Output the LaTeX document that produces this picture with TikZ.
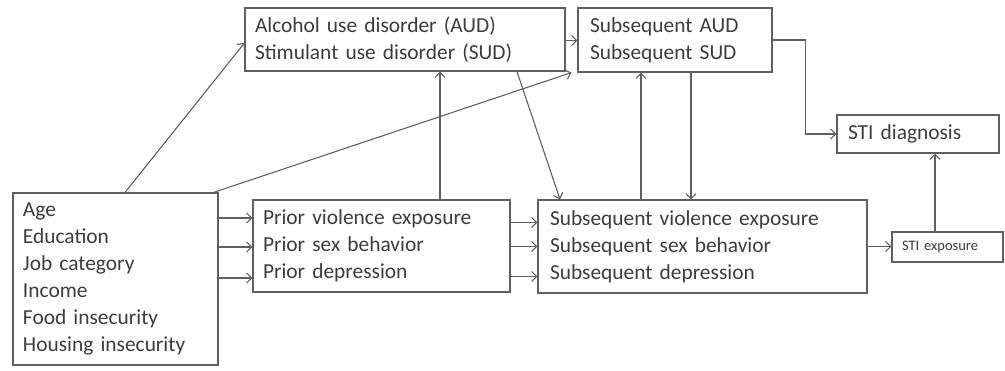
\documentclass[tikz,border=0pt]{standalone}
\usepackage{fontspec}
\setmainfont{Carlito}
\usetikzlibrary{arrows.meta, calc}
\definecolor{linegray}{RGB}{95,95,95}
\definecolor{textgray}{RGB}{60,60,60}
\newcommand{\boxfont}{\fontsize{21.4}{27}\selectfont}
\tikzset{
    box/.style={draw=linegray, line width=1.2pt, inner xsep=10pt,
        inner ysep=0pt, align=left, text=textgray, font=\boxfont}, % preset style for a box
    arr/.style={draw=linegray, line width=1.1pt,
        -{Straight Barb[length=5pt, width=10pt]}}, % preset style for an arrow
}
\begin{document}
\begin{tikzpicture}[x=1pt, y=-1pt]
        \useasboundingbox (0, 0) rectangle (1005, 370);
        \node[box, text width=185pt, minimum height=172pt] (age) at (115.5, 279)
            {Age\\Education\\Job category\\Income\\Food insecurity\\Housing insecurity};
        \node[box, text width=300pt, minimum height=63pt] (aud) at (405, 39.5)
            {Alcohol use disorder (AUD)\\Stimulant use disorder (SUD)};
        \node[box, text width=170pt, inner xsep=12pt, minimum height=64pt] (subaud) at (675, 40)
            {Subsequent AUD\\Subsequent SUD};
        \node[box, text width=237pt, minimum height=92pt] (prior) at (381.5, 246)
            {Prior violence exposure\\Prior sex behavior\\Prior depression};
        \node[box, text width=305pt, inner xsep=12pt, minimum height=93pt] (subseq) at (702.5, 246.5)
            {Subsequent violence exposure\\Subsequent sex behavior\\Subsequent depression};
        \node[box, text width=140pt, inner xsep=11pt, minimum height=38pt] (stidiag) at (918, 134)
            {STI diagnosis};
        \node[box, text width=91pt, minimum height=30pt, font=\fontsize{14.5}{16}\selectfont] (stiexp) at (947.5, 247)
            {STI exposure};
        % covariates
        \draw[arr] ([xshift=9.5pt]age.north) -- ([yshift=-3.5pt]aud.west);
        \draw[arr] ([xshift=-5pt]age.north east) -- ([xshift=-6pt]subaud.south west);
        \foreach \dy in {28, -1, -32}
            \draw[arr] ([yshift=\dy pt]prior.west -| age.east) -- ([yshift=\dy pt]prior.west);
        % prior to subsequent
        \foreach \dy in {24, 0, -30}
            \draw[arr] ([yshift=\dy pt]subseq.west -| prior.east) -- ([yshift=\dy pt]subseq.west);
        \draw[arr] ([xshift=58.5pt]prior.north) -- ([xshift=58.5pt]prior.north |- aud.south);
        \draw[arr] ([yshift=-1pt]aud.east) -- ([yshift=-1pt]aud.east -| subaud.west);
        \draw[arr] ([xshift=112pt]aud.south) -- ([xshift=-142.5pt]subseq.north);
        \draw[arr] ([xshift=-61.5pt]subseq.north) -- ([xshift=-61.5pt]subseq.north |- subaud.south);
        \draw[arr] ([xshift=16pt]subaud.south) -- ([xshift=16pt]subaud.south |- subseq.north);
        % outcome
        \draw[arr] (subaud.east) -- ++(33, 0) |- (stidiag.west);
        \draw[arr] (subseq.east) -- (subseq.east -| stiexp.west);
        \draw[arr] ([xshift=-12.5pt]stiexp.north) -- ([xshift=-12.5pt]stiexp.north |- stidiag.south);
    \end{tikzpicture}
\end{document}
